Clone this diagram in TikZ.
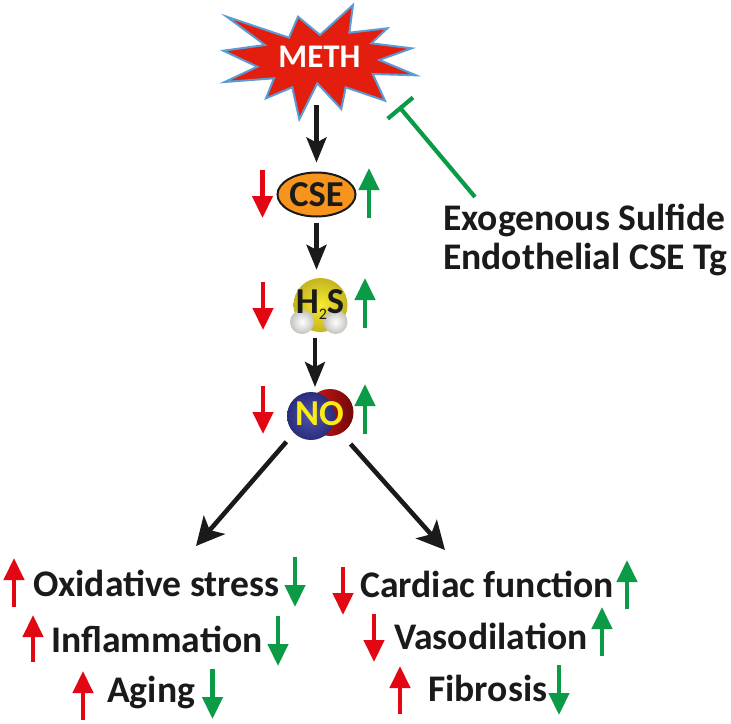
\documentclass[tikz,border=0pt]{standalone}
\usepackage{fontspec}
\setmainfont{Carlito}
\usetikzlibrary{arrows.meta,calc,shapes.geometric}
\definecolor{inkblack}{HTML}{1A1A1A}
\definecolor{upred}{HTML}{E30613}
\definecolor{upgreen}{HTML}{0B9A45}
\definecolor{burst}{HTML}{E31E0E}
\definecolor{burstedge}{HTML}{5B9BD5}
\definecolor{cseorange}{HTML}{F7941D}
\definecolor{sulfurin}{HTML}{F8EC30}
\definecolor{sulfurout}{HTML}{C4B420}
\definecolor{hydout}{HTML}{C4C4BE}
\definecolor{oxred}{HTML}{E01515}
\definecolor{oxdark}{HTML}{6E0A0A}
\definecolor{nblue}{HTML}{4F53AE}
\definecolor{nbluedark}{HTML}{2A2D7A}
\definecolor{noyellow}{HTML}{FAEB14}
\tikzset{
  flowarrow/.style={draw=inkblack,line width=4.2pt,-{Stealth[length=25pt,width=20pt,inset=5pt]}},
  bigarrow/.style={draw=inkblack,line width=4.6pt,-{Stealth[length=28pt,width=28pt,inset=7pt]}},
  redind/.style={draw=upred,line width=4.4pt,-{Triangle[length=22pt,width=20pt]}},
  greenind/.style={draw=upgreen,line width=4.4pt,-{Triangle[length=22pt,width=20pt]}},
  inhibit/.style={draw=upgreen,line width=4.2pt,-{Bar[width=33pt,line width=4.2pt]}},
  labeltext/.style={font=\fontsize{37.6}{39}\selectfont\bfseries,text=inkblack,anchor=base west,inner sep=0pt},
  molecule/.style={font=\fontsize{36.5}{38}\selectfont\bfseries,inner sep=0pt}
}
\newcommand{\indicator}[5]{%
  \coordinate (#1a) at (#3,#4);
  \coordinate (#1b) at (#3,#5);
  \draw[#2] (#1a) -- (#1b);
}
\begin{document}
\begin{tikzpicture}[x=1pt,y=-1pt]
\useasboundingbox (0,0) rectangle (731,723);
% burst
\draw[fill=burst,draw=burstedge,line width=2pt,line join=miter]
 (226.7,16.7)--(289,37.7)--(298,16.7)--(320,35)--(353,5)--(349.3,32.7)--(387.3,28.3)--(371.3,43.3)
 --(411.7,48.3)--(379.3,60)--(416,75.3)--(372.7,74)--(385,100.7)--(345.7,87.3)--(341.3,109)
 --(317.3,83.3)--(299.3,119.3)--(292.3,87.3)--(266,98.3)--(274,78.3)--(224.7,82)--(257.3,66.7)
 --(223.3,50.7)--(265,45)--cycle;
\node[molecule,font=\fontsize{33}{34}\selectfont\bfseries,text=white,minimum height=96pt,minimum width=90pt] (meth) at (319.5,57) {METH};
% CSE
\node[draw=inkblack,line width=2pt,fill=cseorange,ellipse,minimum width=78pt,minimum height=44pt,inner sep=0pt,molecule,text=inkblack] (cse) at (316.5,194.5) {CSE};
% H2S
\shade[inner color=sulfurin,outer color=sulfurout] (320.5,305) circle (27);
\shade[inner color=white,outer color=hydout] (302,322) circle (12);
\shade[inner color=white,outer color=hydout] (335.5,322) circle (12);
\node[circle,minimum size=60pt,molecule,text=inkblack] (h2s) at (320,305) {H\raisebox{-6pt}{\fontsize{16}{16}\selectfont\mdseries 2}S};
% NO
\shade[left color=oxred,right color=oxdark] (330,412.5) circle (23.5);
\shade[inner color=nblue,outer color=nbluedark] (311,416) circle (24);
\node[circle,minimum size=86pt,molecule,text=noyellow] (no) at (319.5,414) {NO};
% main connectors
\draw[flowarrow,shorten >=9pt] ([xshift=-3pt]meth.south) coordinate (methb) -- (methb |- cse.north);
\draw[flowarrow,shorten <=5pt,shorten >=5pt] (cse.south) -- (cse.south |- h2s.north);
\draw[flowarrow,shorten <=3pt,shorten >=27pt] ([xshift=-5pt]h2s.south) coordinate (h2sb) -- (h2sb |- no.center);
\coordinate (leftTip) at (196,546);
\coordinate (rightTip) at (445,550);
\draw[bigarrow] (no.220.5) -- (leftTip);
\draw[bigarrow] (no.-44) -- (rightTip);
% inhibition
\node[labeltext] (sulf) at (443,230) {Exogenous Sulfide};
\node[labeltext] (tg) at (443,269) {Endothelial CSE Tg};
\coordinate (inhS) at (475,197);
\coordinate (inhE) at (399,106.5);
\draw[inhibit] (inhS) -- (inhE);
% indicators at molecules
\indicator{ra}{redind}{262.5}{170}{218}
\indicator{rb}{redind}{263}{282}{330}
\indicator{rc}{redind}{263}{386}{434}
\indicator{ga}{greenind}{369}{218}{168}
\indicator{gb}{greenind}{365}{328}{278}
\indicator{gc}{greenind}{365}{434}{384}
% lower labels
\node[labeltext] (ox) at (33,596) {Oxidative stress};
\node[labeltext] (inf) at (51,652) {Inflammation};
\node[labeltext] (age) at (107,702) {Aging};
\node[labeltext] (car) at (360,597) {Cardiac function};
\node[labeltext] (vas) at (394,649) {Vasodilation};
\node[labeltext] (fib) at (428,701) {Fibrosis};
\indicator{rd}{redind}{14}{607}{558}
\indicator{re}{redind}{33}{662}{615}
\indicator{rf}{redind}{83}{720}{671}
\indicator{gd}{greenind}{295}{557}{607}
\indicator{ge}{greenind}{278}{616}{666}
\indicator{gf}{greenind}{212.5}{669}{719}
\indicator{rg}{redind}{343}{567}{615}
\indicator{rh}{redind}{374}{614}{662}
\indicator{ri}{redind}{400}{714}{666}
\indicator{gg}{greenind}{627}{609}{560}
\indicator{gh}{greenind}{602}{656}{607}
\indicator{gi}{greenind}{559}{665}{715}
\end{tikzpicture}
\end{document}
